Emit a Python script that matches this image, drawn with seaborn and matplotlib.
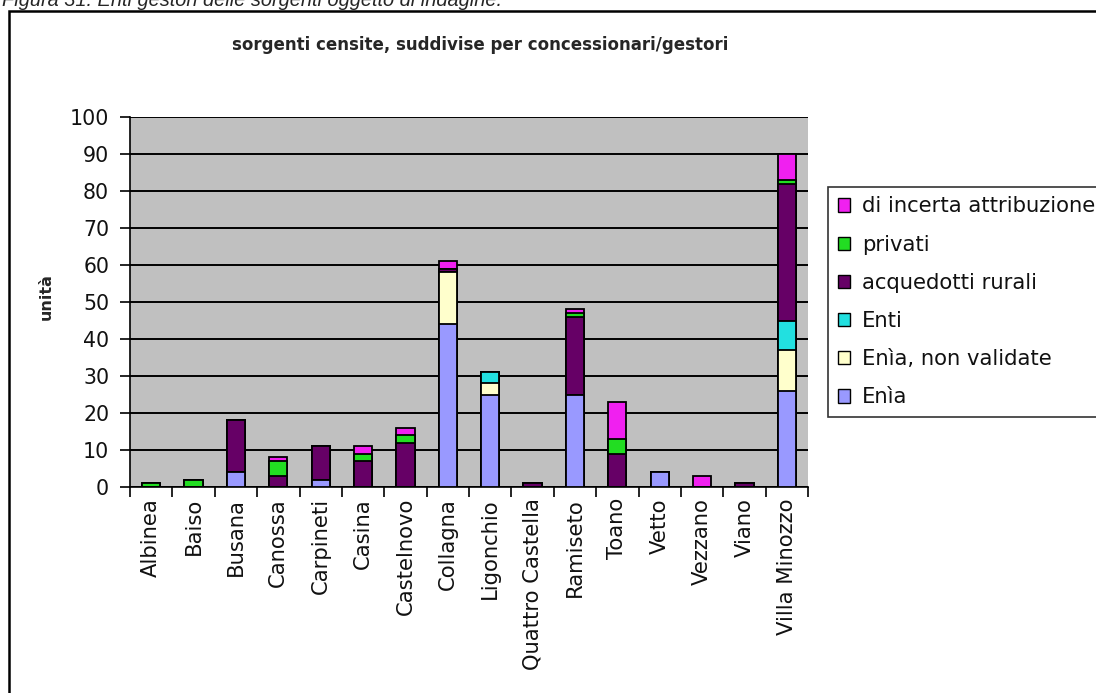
import matplotlib
matplotlib.use("Agg")
import matplotlib.pyplot as plt
from matplotlib.patches import Patch, Rectangle
import numpy as np
import pandas as pd
import seaborn as sns

# Comuni and number of springs per managing body
comuni = ["Albinea", "Baiso", "Busana", "Canossa", "Carpineti", "Casina",
          "Castelnovo", "Collagna", "Ligonchio", "Quattro Castella", "Ramiseto",
          "Toano", "Vetto", "Vezzano", "Viano", "Villa Minozzo"]
enia = [0, 0, 4, 0, 2, 0, 0, 44, 25, 0, 25, 0, 4, 0, 0, 26]
enia_non_validate = [0, 0, 0, 0, 0, 0, 0, 14, 3, 0, 0, 0, 0, 0, 0, 11]
enti = [0, 0, 0, 0, 0, 0, 0, 0, 3, 0, 0, 0, 0, 0, 0, 8]
acquedotti_rurali = [0, 0, 14, 3, 9, 7, 12, 1, 0, 1, 21, 9, 0, 0, 1, 37]
privati = [1, 2, 0, 4, 0, 2, 2, 0, 0, 0, 1, 4, 0, 0, 0, 1]
incerta = [0, 0, 0, 1, 0, 2, 2, 2, 0, 0, 1, 10, 0, 3, 0, 7]

series_names = ["Enìa", "Enìa, non validate", "Enti", "acquedotti rurali",
                "privati", "di incerta attribuzione"]
series_values = [enia, enia_non_validate, enti, acquedotti_rurali, privati, incerta]
series_colors = ["#9999ff", "#ffffcc", "#22e0e0", "#660066", "#22dd22", "#f020f0"]

sns.set_style("ticks")
plt.rcParams["font.family"] = ["DejaVu Sans"]

fig = plt.figure(figsize=(10.96, 6.93), dpi=100)
ax = fig.add_axes([130 / 1096, 1 - 487 / 693, (808 - 130) / 1096, (487 - 117) / 693])
ax.set_facecolor("#c0c0c0")

# Stacked bars: draw cumulative totals from the top layer down
cum = np.cumsum(np.array(series_values, dtype=float), axis=0)
for i in range(len(series_names) - 1, -1, -1):
    df = pd.DataFrame({"comune": comuni, "n": cum[i]})
    sns.barplot(data=df, x="comune", y="n", order=comuni, color=series_colors[i],
                saturation=1, width=0.43, edgecolor="black", linewidth=1.3,
                errorbar=None, ax=ax, zorder=3)

ax.set_ylim(0, 100)
ax.set_xlim(-0.5, len(comuni) - 0.5)
ax.set_yticks(np.arange(0, 101, 10))
ax.yaxis.grid(True, color="black", linewidth=1.4, zorder=1)
ax.set_axisbelow(True)
for s in ["top", "right"]:
    ax.spines[s].set_visible(False)
for s in ["left", "bottom"]:
    ax.spines[s].set_color("black")
    ax.spines[s].set_linewidth(1.2)

ax.set_xticks(np.arange(len(comuni)))
ax.set_xticklabels(comuni, rotation=90, fontsize=15.2, color="#111111")
ax.set_xticks(np.arange(-0.5, len(comuni), 1.0), minor=True)
ax.tick_params(axis="x", which="major", length=0, pad=8)
ax.tick_params(axis="x", which="minor", length=7, width=1.2, color="black", direction="out")
ax.tick_params(axis="y", length=7, width=1.2, color="black", direction="out",
               labelsize=14.8, labelcolor="#111111", pad=8)
ax.set_xlabel("")
ax.set_ylabel("")

fig.text(46 / 1096, 1 - 297 / 693, "unità", rotation=90, fontsize=11.5,
         fontweight="bold", ha="center", va="center")
fig.text(480 / 1096, 1 - 45 / 693, "sorgenti censite, suddivise per concessionari/gestori",
         fontsize=12, fontweight="bold", ha="center", va="center")
fig.text(0.002, 1 - 6 / 693, "Figura 31: Enti gestori delle sorgenti oggetto di indagine.",
         fontsize=14.4, fontstyle="italic", family="Liberation Sans",
         ha="left", va="baseline")

# Outer frame of the figure block
fig.patches.append(Rectangle((9 / 1096, -0.01), 1.1, 1 - 11 / 693 + 0.01,
                             transform=fig.transFigure, fill=False,
                             edgecolor="black", linewidth=1.8))

handles = [Patch(facecolor=c, edgecolor="black", linewidth=1.0, label=n)
           for n, c in zip(series_names, series_colors)]
leg = fig.legend(handles=handles[::-1], loc="upper left",
                 bbox_to_anchor=(828 / 1096, 1 - 187 / 693),
                 fontsize=15.2, frameon=True, fancybox=False, handlelength=0.6,
                 handleheight=0.6, handletextpad=0.55, labelspacing=0.86,
                 borderpad=0.45, borderaxespad=0)
leg.get_frame().set_edgecolor("black")
leg.get_frame().set_linewidth(1.2)
for t in leg.get_texts():
    t.set_color("#111111")

fig.savefig("out.png", dpi=100)
